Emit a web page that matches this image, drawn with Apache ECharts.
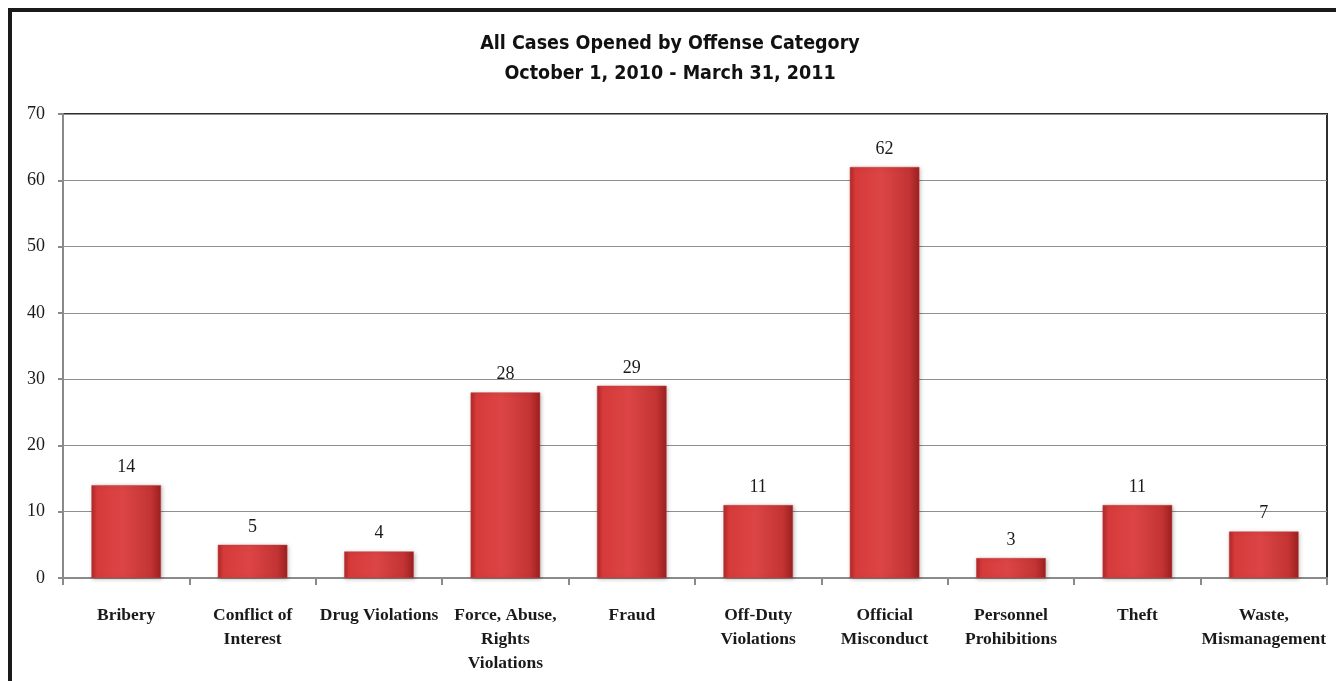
<!DOCTYPE html>
<html>
<head>
<meta charset="utf-8">
<script src="https://cdn.jsdelivr.net/npm/echarts@6/dist/echarts.min.js"></script>
<style>
  html, body { margin: 0; padding: 0; background: #fff; }
  #chart { width: 1336px; height: 681px; }
</style>
</head>
<body>
<div id="chart"></div>
<script>
// Cases opened per offense category, Oct 1 2010 - Mar 31 2011
const categories = [
  'Bribery', 'Conflict of\nInterest', 'Drug Violations', 'Force, Abuse,\nRights\nViolations',
  'Fraud', 'Off-Duty\nViolations', 'Official\nMisconduct', 'Personnel\nProhibitions',
  'Theft', 'Waste,\nMismanagement'
];
const casesOpened = [14, 5, 4, 28, 29, 11, 62, 3, 11, 7];
const titleLines = ['All Cases Opened by Offense Category', 'October 1, 2010 - March 31, 2011'];

const serif = '"Liberation Serif", "DejaVu Serif", serif';
const narrow = '"DejaVu Sans Condensed"';

const chart = echarts.init(document.getElementById('chart'), null, { renderer: 'canvas' });

const barFill = new echarts.graphic.LinearGradient(0, 0, 1, 0, [
  { offset: 0, color: '#b02828' },
  { offset: 0.08, color: '#d63a3a' },
  { offset: 0.45, color: '#dc4545' },
  { offset: 0.85, color: '#c43434' },
  { offset: 1, color: '#9c2020' }
]);

chart.setOption({
  animation: false,
  backgroundColor: '#ffffff',
  title: {
    text: titleLines.join('\n'),
    left: 665,
    top: 24,
    textAlign: 'center',
    textStyle: {
      fontFamily: narrow,
      fontWeight: 'bold',
      fontSize: 19.5,
      lineHeight: 30,
      color: '#111'
    }
  },
  graphic: [
    // page frame: heavy rule across the top and down the left side
    { type: 'rect', shape: { x: 8, y: 8, width: 1328, height: 4 }, style: { fill: '#1a1a1a' }, silent: true },
    { type: 'rect', shape: { x: 8, y: 8, width: 4, height: 673 }, style: { fill: '#1a1a1a' }, silent: true }
  ],
  grid: {
    left: 63,
    right: 9,
    top: 114,
    bottom: 103,
    show: true,
    borderColor: '#2e2e2e',
    borderWidth: 2,
    backgroundColor: 'transparent'
  },
  xAxis: {
    type: 'category',
    data: categories,
    axisLine: { lineStyle: { color: '#8a8a8a', width: 2 } },
    axisTick: { show: true, length: 7, lineStyle: { color: '#8a8a8a', width: 2 } },
    axisLabel: {
      interval: 0,
      margin: 25,
      fontFamily: serif,
      fontWeight: 'bold',
      fontSize: 17.5,
      lineHeight: 24,
      color: '#1a1a1a'
    }
  },
  yAxis: {
    type: 'value',
    min: 0,
    max: 70,
    interval: 10,
    axisLine: { show: true, lineStyle: { color: '#8a8a8a', width: 2 } },
    axisTick: { show: true, length: 5, lineStyle: { color: '#8a8a8a', width: 2 } },
    splitLine: { lineStyle: { color: '#8f8f8f', width: 1.2 } },
    axisLabel: {
      margin: 18,
      fontFamily: serif,
      fontSize: 18,
      color: '#1a1a1a'
    }
  },
  series: [{
    type: 'bar',
    data: casesOpened,
    barCategoryGap: '45%',
    itemStyle: {
      color: barFill,
      borderColor: '#c43a3a',
      borderWidth: 0.5,
      shadowColor: 'rgba(0,0,0,0.25)',
      shadowBlur: 4,
      shadowOffsetX: 1,
      shadowOffsetY: 1
    },
    label: {
      show: true,
      position: 'top',
      distance: 9,
      fontFamily: serif,
      fontSize: 18,
      color: '#1a1a1a'
    }
  }]
});
</script>
</body>
</html>
